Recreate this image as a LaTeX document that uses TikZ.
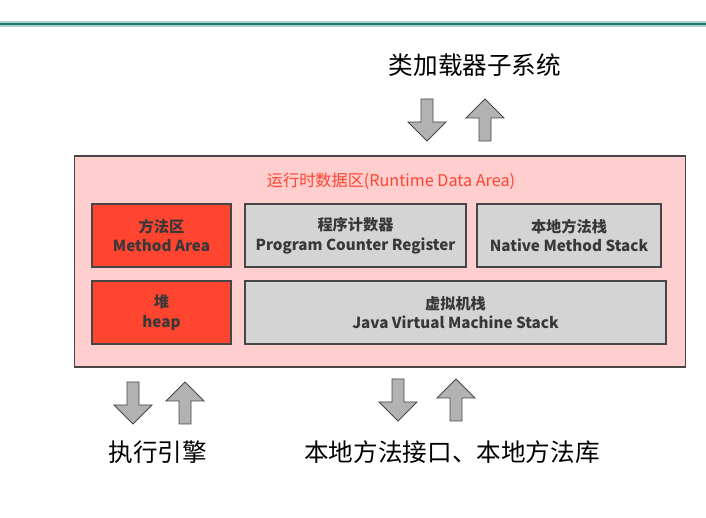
\documentclass[tikz,border=0pt]{standalone}
\usepackage{fontspec}
\setmainfont{Noto Sans CJK SC}

\definecolor{areapink}{RGB}{255,206,206}
\definecolor{areared}{RGB}{255,68,48}
\definecolor{boxgray}{RGB}{212,212,212}
\definecolor{edgegray}{RGB}{70,70,70}
\definecolor{arrgray}{RGB}{178,178,178}
\definecolor{tealbar}{RGB}{28,118,104}

\begin{document}
\begin{tikzpicture}[x=0.025cm, y=-0.025cm,
    every node/.style={inner sep=0pt},
    big/.style={font=\fontsize{17.5}{20}\selectfont},
    area/.style={rectangle, draw=edgegray, line width=0.8pt, fill=areapink},
    reg/.style={rectangle, draw=edgegray, line width=1pt, minimum height=1.575cm,
                align=center, text=black!78,
                font=\bfseries\fontsize{10.8}{14}\selectfont},
    hot/.style={reg, fill=areared},
    cold/.style={reg, fill=boxgray},
    blk/.style={draw=edgegray, fill=arrgray, line width=0.6pt, line join=miter},
    pics/downarr/.style={code={
      \draw[blk] (-6,-21) -- (6,-21) -- (6,2) -- (19,2) -- (0,21) -- (-19,2) -- (-6,2) -- cycle;}},
    pics/uparr/.style={code={
      \draw[blk] (-6,21) -- (6,21) -- (6,-2) -- (19,-2) -- (0,-21) -- (-19,-2) -- (-6,-2) -- cycle;}},
  ]
  \useasboundingbox (0,0) rectangle (706,518);
  \coordinate (barL) at (0,24);
  \coordinate (barR) at (706,24);
  \draw[tealbar!35, line width=0.13cm] (barL) -- (barR);
  \draw[tealbar, line width=0.07cm] (barL) -- (barR);

  \node[big] (loader) at (475,65) {类加载器子系统};
  \pic (ldDown) at (427,120) {downarr};
  \pic (ldUp) at (485,120) {uparr};

  \node[area, minimum width=15.25cm, minimum height=5.275cm] (rda) at (380,261.5) {};
  \node[text=areared, font=\fontsize{11.5}{14}\selectfont] (rdaT) at (391,181)
    {运行时数据区(Runtime Data Area)};

  \node[hot, minimum width=3.475cm] (meth) at (161.5,235.5) {方法区\\Method Area};
  \node[cold, minimum width=5.525cm] (pc) at (355.5,235.5) {程序计数器\\Program Counter Register};
  \node[cold, minimum width=4.6cm] (nms) at (569,235.5) {本地方法栈\\Native Method Stack};
  \node[hot, minimum width=3.475cm] (heap) at (161.5,312.5) {堆\\heap};
  \node[cold, minimum width=10.525cm] (jvms) at (455.5,312.5) {虚拟机栈\\Java Virtual Machine Stack};

  \pic (exDown) at (133,403) {downarr};
  \pic (exUp) at (185,403) {uparr};
  \pic (niDown) at (398,400) {downarr};
  \pic (niUp) at (456,400) {uparr};

  \node[big] (exec) at (158,452) {执行引擎};
  \node[big] (native) at (452,452) {本地方法接口、本地方法库};
\end{tikzpicture}
\end{document}
